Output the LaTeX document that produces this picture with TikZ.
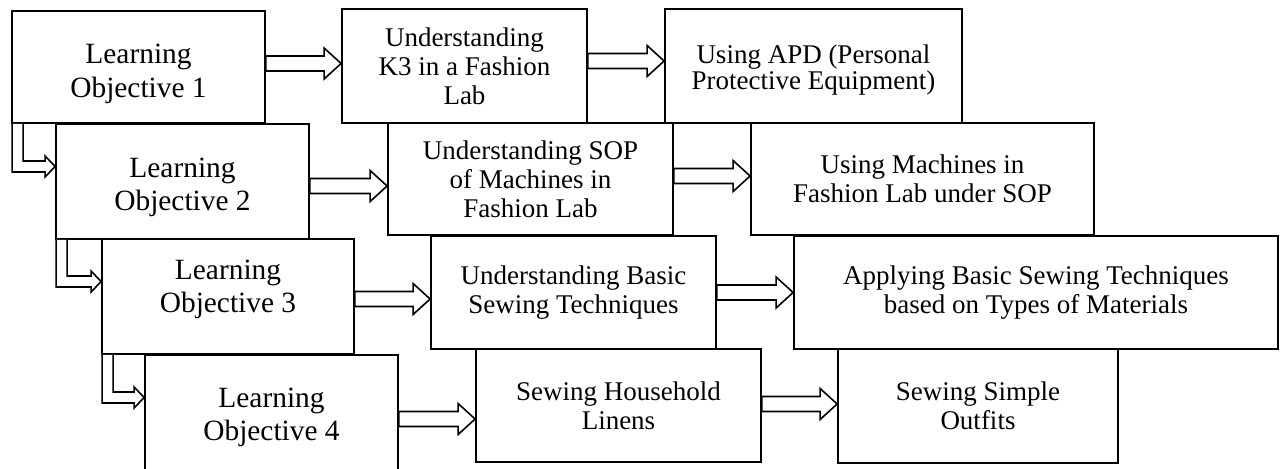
\documentclass[tikz,border=0pt]{standalone}
\usepackage{fontspec}
\setmainfont{Liberation Serif}
\usetikzlibrary{calc}

% straight hollow arrow, #3 shifts it up or down
\newcommand{\fatarrow}[3]{%
  \coordinate (s) at ($(#1.east)+(0,#3)$);
  \coordinate (e) at (s -| #2.west);
  \draw[block arrow] ($(s)+(0,-7.5)$) -- ($(e)+(-17,-7.5)$) -- ($(e)+(-17,-15.5)$) -- (e)
    -- ($(e)+(-17,15.5)$) -- ($(e)+(-17,7.5)$) -- ($(s)+(0,7.5)$) -- cycle;
}
% bent hollow arrow from the left corner down and right
\newcommand{\bentarrow}[2]{%
  \coordinate (c) at ($(#1.south west)+(6.5,0)$);
  \coordinate (t) at ($(#2.west)+(0,-15)$);
  \coordinate (k) at (c |- t);
  \draw[block arrow] ($(c)+(-5.5,0)$) -- ($(k)+(-5.5,5.5)$) -- ($(t)+(-10,5.5)$) -- ($(t)+(-10,10.5)$) -- (t)
    -- ($(t)+(-10,-10.5)$) -- ($(t)+(-10,-5.5)$) -- ($(k)+(5.5,-5.5)$) -- ($(c)+(5.5,0)$);
}

\begin{document}
\begin{tikzpicture}[
    x=0.5pt, y=-0.5pt,
    goal box/.style={draw, fill=white, line width=0.9pt, minimum width=126.5pt, minimum height=57.5pt},
    goal text/.style={inner sep=0pt, align=center, font=\fontsize{14.7}{16.7}\selectfont},
    step box/.style={draw, fill=white, line width=0.9pt, inner sep=0pt, align=center,
        font=\fontsize{13.5}{14.6}\selectfont},
    block arrow/.style={draw, fill=white, line width=0.8pt, line join=miter}
]
    \useasboundingbox (0,0) rectangle (1282,468);

    % learning objectives
    \node[goal box, minimum height=56pt] (lo1) at (138.5,67) {};
    \node[goal text] (lo1 text) at ($(lo1)+(0,7)$) {Learning\\Objective 1};
    \node[goal box] (lo2) at (182.5,181.5) {};
    \node[goal text] (lo2 text) at ($(lo2)+(0,6)$) {Learning\\Objective 2};
    \node[goal box, minimum width=126pt] (lo3) at (228,296.5) {};
    \node[goal text] (lo3 text) at ($(lo3)+(0,-7)$) {Learning\\Objective 3};
    \node[goal box] (lo4) at (271.5,412.5) {};
    \node[goal text] (lo4 text) at ($(lo4)+(0,5)$) {Learning\\Objective 4};

    % first row
    \node[step box, minimum width=122.5pt, minimum height=57pt] (k3) at (464.5,66) {Understanding\\K3 in a Fashion\\Lab};
    \node[step box, minimum width=148.5pt, minimum height=57pt] (apd) at (813.5,66) {};
    \node[step box, draw=none, fill=none, font=\fontsize{13.5}{13}\selectfont] (apd text) at ($(apd)+(0,4)$)
        {Using APD (Personal\\Protective Equipment)};

    % second row
    \node[step box, minimum width=142.5pt, minimum height=56pt] (sop) at (530.5,179) {Understanding SOP\\of Machines in\\Fashion Lab};
    \node[step box, minimum width=171.5pt, minimum height=56pt] (mach) at (922.5,179) {Using Machines in\\Fashion Lab under SOP};

    % third row
    \node[step box, minimum width=142.5pt, minimum height=56.5pt] (basic) at (573.5,292.5) {Understanding Basic\\Sewing Techniques};
    \node[step box, minimum width=242pt, minimum height=56.5pt] (apply) at (1036,292.5) {Applying Basic Sewing Techniques\\based on Types of Materials};

    % fourth row
    \node[step box, minimum width=142.5pt, minimum height=56.5pt] (linens) at (618.5,405.5) {Sewing Household\\Linens};
    \node[step box, minimum width=140pt, minimum height=57pt] (outfit) at (978,406) {Sewing Simple\\Outfits};

    % arrows
    \fatarrow{lo1}{k3}{-3.5}
    \fatarrow{k3}{apd}{-5}
    \fatarrow{lo2}{sop}{4.5}
    \fatarrow{sop}{mach}{-3}
    \fatarrow{lo3}{basic}{2.5}
    \fatarrow{basic}{apply}{0}
    \fatarrow{lo4}{linens}{6.5}
    \fatarrow{linens}{outfit}{-1.5}

    \bentarrow{lo1}{lo2}
    \bentarrow{lo2}{lo3}
    \bentarrow{lo3}{lo4}

\end{tikzpicture}
\end{document}
